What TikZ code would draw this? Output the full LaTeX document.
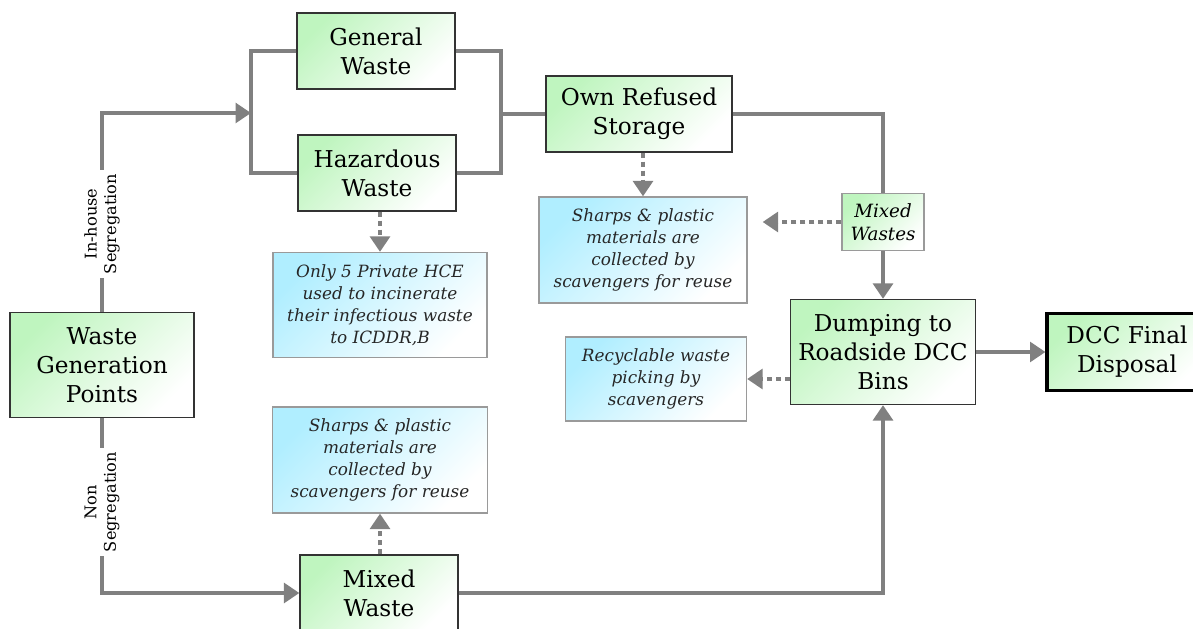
\documentclass[tikz,border=0pt]{standalone}
\usepackage{fontspec}
\setmainfont{DejaVu Serif}
\usetikzlibrary{arrows.meta}
\usetikzlibrary{positioning}
\usetikzlibrary{calc}
\definecolor{hcwGreen}{HTML}{BFF5BF}
\definecolor{hcwBlue}{HTML}{B0EEFF}
\definecolor{hcwGray}{HTML}{808080}
\definecolor{hcwEdge}{HTML}{333333}
\definecolor{hcwNoteEdge}{HTML}{9A9A9A}
\tikzset{
  hcw box/.style={
    rectangle,
    draw=hcwEdge,
    line width=0.9pt,
    top color=hcwGreen,
    bottom color=white,
    shading angle=45,
    text=black,
    minimum width=39.5mm,
    minimum height=19mm,
    align=center,
    font=\fontsize{16.5}{20.5}\selectfont,
    inner sep=2pt,
  },
}
\tikzset{
  hcw note/.style={
    rectangle,
    draw=hcwNoteEdge,
    line width=0.9pt,
    top color=hcwBlue,
    bottom color=white,
    shading angle=45,
    text=black!85,
    align=center,
    font=\fontsize{12}{15.6}\selectfont\itshape,
    inner sep=2pt,
  },
}
\tikzset{
  hcw flow/.style={
    -{Triangle[length=11pt, width=14pt]},
    draw=hcwGray,
    line width=3.2pt,
  },
}
\tikzset{
  hcw pick/.style={
    hcw flow,
    dash pattern=on 3.6pt off 2.8pt,
  },
}
\tikzset{
  hcw tag/.style={
    fill=white,
    rotate=90,
    align=center,
    inner sep=3pt,
    font=\fontsize{11.5}{14}\selectfont,
  },
}

\begin{document}
\begin{tikzpicture}

  % =========================================================================
  % Canvas
  % =========================================================================
  \path[fill=white, use as bounding box] (0, 0) rectangle (29.825, 15.7);

  % =========================================================================
  % Source on the left
  % =========================================================================
  \node[hcw box, minimum width=46mm, minimum height=26.25mm]
    (wgp) at (2.55, 6.575) {Waste\\Generation\\Points};

  % =========================================================================
  % Segregated stream: general / hazardous
  % =========================================================================
  \node[hcw box] (gw) at (9.4, 14.425) {General\\Waste};
  \node[hcw box] (hw) at (9.425, 11.375) {Hazardous\\Waste};
  \node[hcw box, minimum width=46.5mm]
    (ors) at (15.975, 12.85) {Own Refused\\Storage};

  \coordinate (split) at (6.275, 12.875);
  \coordinate (merge) at (12.525, 12.85);

  % bracket round the two boxes
  \draw[hcw flow, -] (gw.west) -| (split) |- (hw.west);
  \draw[hcw flow, -] (gw.east) -| (merge) |- (hw.east);
  \draw[hcw flow, -] (merge) -- (ors.west);

  % in-house segregation
  \draw[hcw flow] (wgp.north) |- (split);
  \node[hcw tag] (inhouse) at (2.55, 10.1) {In-house\\Segregation};

  % =========================================================================
  % Side notes (blue)
  % =========================================================================
  \node[hcw note, minimum width=53.5mm, minimum height=26.25mm]
    (incin) at (9.5, 8.075)
    {Only 5 Private HCE\\used to incinerate\\their infectious waste\\to ICDDR,B};
  \node[hcw note, minimum width=52mm, minimum height=26.5mm]
    (sharpsA) at (16.075, 9.45)
    {Sharps \& plastic\\materials are\\collected by\\scavengers for reuse};
  \node[hcw note, minimum width=45.25mm, minimum height=21mm]
    (recyc) at (16.4, 6.225)
    {Recyclable waste\\picking by\\scavengers};
  \node[hcw note, minimum width=53.75mm, minimum height=26.5mm]
    (sharpsB) at (9.5, 4.2)
    {Sharps \& plastic\\materials are\\collected by\\scavengers for reuse};

  % =========================================================================
  % Mixed wastes, dumping, final disposal
  % =========================================================================
  \node[hcw box, draw=hcwNoteEdge, minimum width=20.5mm, minimum height=14.25mm,
        font=\fontsize{13}{16}\selectfont\itshape]
    (mixedA) at (22.075, 10.15) {Mixed\\Wastes};
  \node[hcw box, minimum width=46.25mm, minimum height=26.25mm]
    (dump) at (22.075, 6.9) {Dumping to\\Roadside DCC\\Bins};
  \node[hcw box, line width=2.2pt, draw=black, minimum width=40mm, minimum height=19.25mm]
    (dcc) at (28.175, 6.9) {DCC Final\\Disposal};
  \node[hcw box] (mixed) at (9.475, 0.875) {Mixed\\Waste};

  \draw[hcw flow, -] (ors.east) -| (mixedA.north);
  \draw[hcw flow] (mixedA.south) -- (dump.north);
  \draw[hcw flow] (dump.east) -- (dcc.west);

  % non segregation
  \draw[hcw flow] (wgp.south) |- (mixed.west);
  \node[hcw tag] (nonseg) at (2.55, 3.15) {Non\\Segregation};
  \draw[hcw flow] (mixed.east) -| (dump.south);

  % =========================================================================
  % Dotted pick-up arrows (kept vertical / horizontal)
  % =========================================================================
  \draw[hcw pick] (incin.north |- hw.south) -- (incin.north);
  \draw[hcw pick] (sharpsA.north |- ors.south) -- (sharpsA.north);
  \draw[hcw pick, shorten >=3.75mm] (mixedA.west) -- (mixedA.west -| sharpsA.east);
  \draw[hcw pick] (recyc.east -| dump.west) -- (recyc.east);
  \draw[hcw pick] (sharpsB.south |- mixed.north) -- (sharpsB.south);

\end{tikzpicture}
\end{document}
